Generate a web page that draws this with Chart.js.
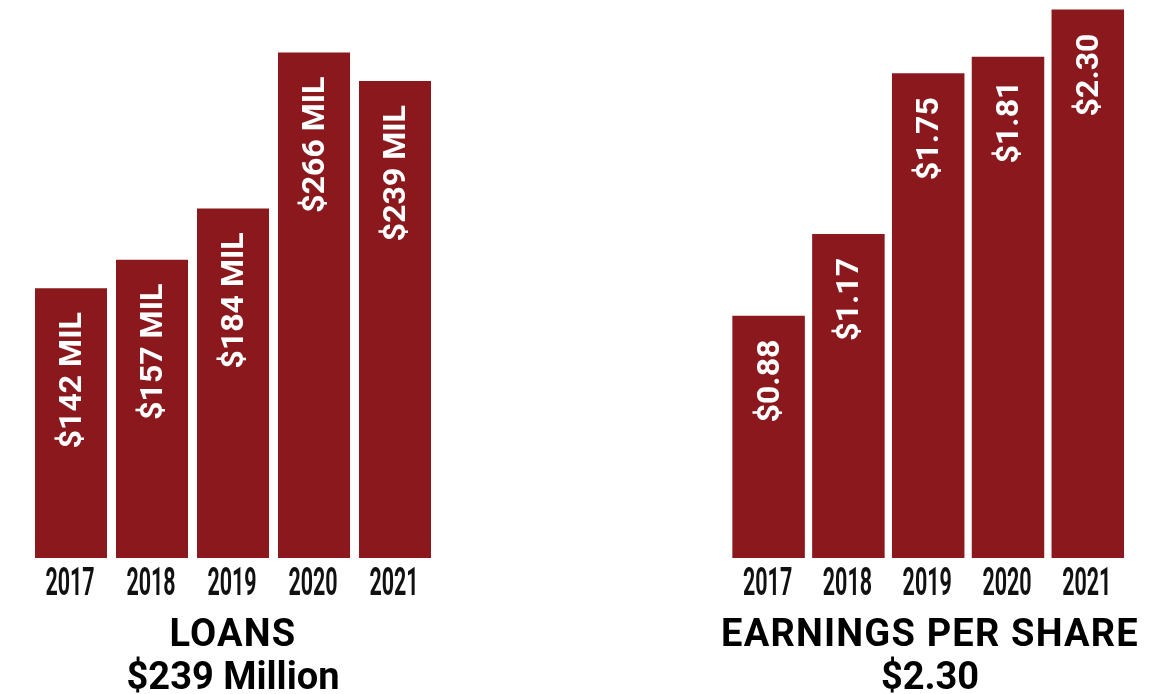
<!DOCTYPE html>
<html><head><meta charset="utf-8">
<script src="https://cdn.jsdelivr.net/npm/chart.js@4.4.0/dist/chart.umd.min.js"></script>
<style>
html,body{margin:0;padding:0;background:#fff;width:1167px;height:694px;overflow:hidden;}
.box{position:absolute;top:0;height:694px;}
.title{position:absolute;text-align:center;font-family:Roboto,"Noto Sans",sans-serif;font-weight:700;font-size:38px;line-height:43px;color:#000;white-space:nowrap;}
.title .l1{letter-spacing:1.2px;}
</style></head><body>
<div class="box" style="left:0;width:466px"><canvas id="c1"></canvas></div>
<div class="box" style="left:700px;width:467px"><canvas id="c2"></canvas></div>
<div class="title" style="left:0;width:466px;top:612px"><span class="l1">LOANS</span><br>$239 Million</div>
<div class="title" style="left:693px;width:474px;top:612px"><span class="l1">EARNINGS PER SHARE</span><br>$2.30</div>
<script>
// ---- data ----
const years = ['2017', '2018', '2019', '2020', '2021'];
// bar lengths as drawn in the graphic (loans, $ millions)
const loanBars = [142, 157, 184, 266, 251];
const loanLabels = ['$142 MIL', '$157 MIL', '$184 MIL', '$266 MIL', '$239 MIL'];
// bar lengths as drawn in the graphic (EPS, $)
const epsBars = [0.875, 1.17, 1.75, 1.81, 1.98];
const epsLabels = ['$0.88', '$1.17', '$1.75', '$1.81', '$2.30'];

const BAR_COLOR = '#8a181c';

const valueLabelPlugin = {
  id: 'valueLabels',
  afterDatasetsDraw(chart, args, opts) {
    const ctx = chart.ctx;
    const meta = chart.getDatasetMeta(0);
    ctx.save();
    ctx.fillStyle = '#ffffff';
    ctx.font = '700 32px Roboto, "Noto Sans", sans-serif';
    ctx.textAlign = 'right';
    ctx.textBaseline = 'middle';
    meta.data.forEach((bar, i) => {
      ctx.save();
      ctx.translate(bar.x + 2, bar.y + 24);
      ctx.rotate(-Math.PI / 2);
      ctx.fillText(opts.labels[i], 0, 0);
      ctx.restore();
    });
    ctx.restore();
  }
};

const yearLabelPlugin = {
  id: 'yearLabels',
  afterDraw(chart) {
    const ctx = chart.ctx;
    const xs = chart.scales.x;
    ctx.save();
    ctx.fillStyle = '#111111';
    ctx.font = '700 39px Roboto, "Noto Sans", sans-serif';
    ctx.textAlign = 'center';
    ctx.textBaseline = 'alphabetic';
    chart.data.labels.forEach((lab, i) => {
      ctx.save();
      ctx.translate(xs.getPixelForValue(i) - 1, 595);
      ctx.scale(0.55, 1);
      ctx.fillText(lab, 0, 0);
      ctx.restore();
    });
    ctx.restore();
  }
};

function makeChart(id, bars, labels, yMax, padL, padR, barPct) {
  return new Chart(document.getElementById(id), {
    type: 'bar',
    data: {
      labels: years,
      datasets: [{
        data: bars,
        backgroundColor: BAR_COLOR,
        borderWidth: 0,
        categoryPercentage: 1.0,
        barPercentage: barPct
      }]
    },
    options: {
      responsive: true,
      maintainAspectRatio: false,
      animation: false,
      events: [],
      layout: { padding: { left: padL, right: padR, top: 0, bottom: 136 } },
      plugins: {
        legend: { display: false },
        tooltip: { enabled: false },
        valueLabels: { labels: labels }
      },
      scales: {
        x: { display: false },
        y: { display: false, min: 0, max: yMax }
      }
    },
    plugins: [valueLabelPlugin, yearLabelPlugin]
  });
}

makeChart('c1', loanBars, loanLabels, 558 / 1.9, 30.5, 30.5, 72 / 81);
makeChart('c2', epsBars, epsLabels, 558 / 277, 28.7, 39.3, 72.5 / 79.8);
</script>
</body></html>
